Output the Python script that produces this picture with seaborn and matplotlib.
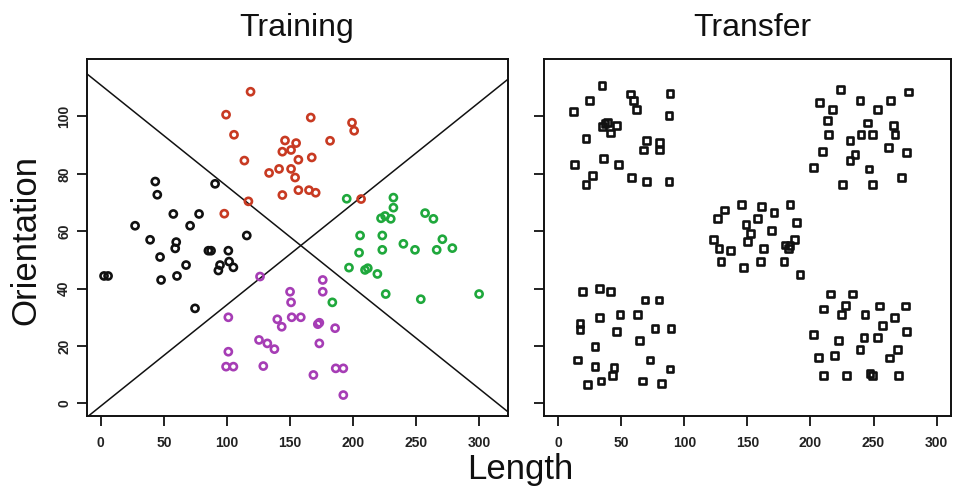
import matplotlib
matplotlib.use("Agg")
import matplotlib.pyplot as plt
import seaborn as sns
import pandas as pd

# ---- training stimuli (length, orientation) per category ----
cat_a_len = [43.2, 44.8, 57.5, 77.9, 90.6, 27.2, 70.8, 115.7, 85.3, 87.4, 101.1, 101.7, 94.5,
             93.2, 105.1, 67.6, 74.7, 39.1, 59.8, 59.0, 47.0, 47.8, 60.4, 2.6, 5.8]
cat_a_ori = [77.3, 72.7, 66.0, 66.0, 76.5, 61.9, 61.9, 58.5, 53.2, 53.2, 53.2, 49.4, 48.2,
             46.3, 47.4, 48.2, 33.1, 57.0, 56.2, 54.0, 51.0, 43.0, 44.4, 44.4, 44.4]

cat_b_len = [118.7, 99.3, 105.6, 113.8, 166.4, 146.0, 154.8, 143.9, 150.8, 156.6, 167.2, 133.4, 141.3,
             150.8, 154.0, 156.6, 165.0, 170.3, 143.9, 117.0, 97.9, 199.1, 200.8, 181.7, 206.3]
cat_b_ori = [108.6, 100.6, 93.6, 84.6, 99.6, 91.6, 90.7, 87.7, 88.3, 84.9, 85.7, 80.3, 81.7,
             81.7, 78.7, 74.3, 74.3, 73.4, 72.6, 70.4, 66.1, 97.8, 95.0, 91.5, 71.2]

cat_c_len = [194.9, 231.9, 231.9, 222.1, 225.3, 229.8, 257.0, 263.6, 205.5, 223.1, 239.8, 249.0, 266.2,
             270.7, 278.6, 204.7, 223.1, 196.7, 209.4, 211.6, 219.2, 225.8, 253.6, 299.8, 183.5]
cat_c_ori = [71.3, 71.7, 68.2, 64.5, 65.3, 64.3, 66.3, 64.3, 58.5, 58.5, 55.6, 53.5, 53.5,
             57.2, 54.1, 52.5, 53.5, 47.3, 46.5, 47.1, 45.1, 38.1, 36.3, 38.1, 35.2]

cat_d_len = [126.2, 150.0, 150.8, 175.9, 175.9, 101.1, 139.9, 143.4, 151.3, 158.5, 172.0, 173.2, 185.7,
             125.4, 132.0, 137.6, 173.2, 101.1, 99.3, 105.1, 128.8, 168.5, 186.2, 192.2, 192.2]
cat_d_ori = [44.2, 38.9, 35.2, 43.0, 38.9, 30.0, 29.3, 26.7, 30.0, 30.0, 27.6, 28.1, 26.2,
             22.1, 20.9, 18.9, 20.9, 18.0, 12.8, 12.8, 13.0, 9.9, 12.2, 12.2, 2.9]

# ---- transfer stimuli (length, orientation) ----
transfer_len = [34.7, 57.4, 88.6, 24.6, 59.5, 12.4, 62.2, 87.8, 37.0, 38.8, 35.2, 46.3, 41.5,
                22.0, 70.1, 67.4, 80.1, 80.1, 35.6, 48.0, 13.2, 27.3, 22.0, 58.2, 70.1, 87.8,
                223.9, 277.6, 207.0, 239.3, 263.6, 217.6, 253.0, 213.3, 245.0, 265.7, 214.1, 240.0, 249.3,
                267.0, 231.3, 209.4, 261.9, 276.3, 235.3, 231.3, 202.2, 246.4, 272.3, 225.2, 249.0,
                145.4, 183.7, 131.6, 126.1, 161.3, 171.1, 158.1, 189.1, 148.8, 169.2, 152.6, 122.9, 127.4,
                136.7, 149.9, 162.6, 179.8, 187.2, 182.4, 183.7, 129.0, 146.7, 160.5, 179.0, 191.7,
                19.0, 32.5, 41.6, 68.8, 79.9, 32.5, 48.9, 62.6, 17.2, 17.2, 46.3, 76.7, 89.4,
                64.2, 29.1, 15.1, 29.1, 44.2, 42.8, 72.7, 88.6, 23.3, 33.9, 66.9, 82.0,
                216.0, 233.1, 210.2, 227.9, 224.7, 254.6, 275.5, 243.2, 266.5, 257.3, 202.2, 222.0, 242.4,
                252.9, 276.3, 239.3, 269.2, 262.5, 206.2, 218.9, 210.2, 228.7, 247.2, 249.3, 269.6]
transfer_ori = [110.8, 107.8, 107.9, 105.6, 105.4, 101.7, 102.5, 100.4, 97.4, 97.9, 96.4, 96.7, 94.2,
                92.4, 91.6, 88.3, 91.0, 88.3, 85.4, 83.3, 83.1, 79.4, 76.3, 78.7, 77.2, 77.2,
                109.5, 108.5, 104.8, 105.5, 105.5, 102.5, 102.5, 98.6, 97.7, 96.7, 93.6, 93.6, 93.6,
                93.6, 91.5, 87.8, 89.3, 87.5, 86.6, 84.6, 82.3, 81.7, 78.7, 76.4, 76.4,
                69.4, 69.4, 67.4, 64.5, 68.6, 66.5, 64.5, 63.1, 62.4, 60.1, 59.3, 57.2, 54.1,
                53.2, 56.3, 54.1, 55.2, 57.0, 54.1, 54.9, 49.4, 47.3, 49.4, 49.4, 45.0,
                38.9, 40.1, 38.9, 36.0, 36.0, 30.0, 31.0, 31.0, 27.9, 25.8, 25.0, 26.2, 26.2,
                21.8, 19.7, 15.1, 12.8, 12.4, 9.6, 15.1, 12.0, 6.7, 7.8, 7.8, 7.0,
                38.1, 38.1, 32.9, 34.0, 31.0, 33.9, 33.9, 31.0, 30.0, 27.1, 24.1, 21.8, 22.9,
                22.9, 25.0, 18.8, 18.9, 15.8, 15.9, 16.8, 9.6, 9.6, 10.5, 9.6, 9.6]

categories = ["A", "B", "C", "D"]
category_colors = ["#111111", "#C83A22", "#1FA83C", "#A63DB5"]

# category boundaries: two lines crossing at the prototype centre
boundary_centre = (158.5, 55.0)
boundary_slopes = [-0.353, 0.353]

x_ticks = [0, 50, 100, 150, 200, 250, 300]
y_ticks = [0, 20, 40, 60, 80, 100]

train = pd.DataFrame({
    "Length": cat_a_len + cat_b_len + cat_c_len + cat_d_len,
    "Orientation": cat_a_ori + cat_b_ori + cat_c_ori + cat_d_ori,
    "Category": (["A"] * len(cat_a_len) + ["B"] * len(cat_b_len)
                 + ["C"] * len(cat_c_len) + ["D"] * len(cat_d_len)),
})
transfer = pd.DataFrame({"Length": transfer_len, "Orientation": transfer_ori})

sns.set_style("ticks")
plt.rcParams["font.family"] = ["Liberation Sans", "DejaVu Sans"]

W, H = 954, 491
fig = plt.figure(figsize=(W / 100, H / 100), dpi=100)
fig.patch.set_facecolor("white")


def px_axes(left, right, top, bottom):
    return fig.add_axes([left / W, 1 - bottom / H, (right - left) / W, (bottom - top) / H])


ax_train = px_axes(87, 508, 59, 416)
ax_trans = px_axes(544, 951, 59, 416)


def hollow(ax, lw):
    coll = ax.collections[-1]
    fc = coll.get_facecolors()
    coll.set_edgecolors(fc)
    coll.set_facecolors("none")
    coll.set_linewidths(lw)


sns.scatterplot(data=train, x="Length", y="Orientation", hue="Category",
                hue_order=categories, palette=category_colors, marker="o",
                s=26, linewidth=0, legend=False, ax=ax_train, zorder=3)
hollow(ax_train, 1.9)

for slope in boundary_slopes:
    ax_train.axline(boundary_centre, slope=slope, color="#111111", lw=1.1, zorder=2)

sns.scatterplot(data=transfer, x="Length", y="Orientation", color="#111111",
                marker="s", s=24, linewidth=0, legend=False, ax=ax_trans, zorder=3)
hollow(ax_trans, 1.9)

ax_train.set_xlim(-10.9, 322.7)
ax_trans.set_xlim(-11.3, 311.4)
for ax in (ax_train, ax_trans):
    ax.set_ylim(-4.4, 120.0)
    ax.set_xticks(x_ticks)
    ax.set_yticks(y_ticks)
    ax.set_xlabel("")
    ax.set_ylabel("")
    ax.set_facecolor("white")
    for sp in ax.spines.values():
        sp.set_visible(True)
        sp.set_color("#111111")
        sp.set_linewidth(1.4)
    ax.tick_params(axis="both", direction="out", length=7.5, width=1.3, color="#111111",
                   labelsize=10, labelcolor="#222222")
    ax.tick_params(axis="x", pad=7)
    ax.tick_params(axis="y", pad=4)
    for lab in ax.get_xticklabels() + ax.get_yticklabels():
        lab.set_fontweight("bold")

for lab in ax_train.get_yticklabels():
    lab.set_rotation(90)
    lab.set_va("center")
ax_trans.set_yticklabels([])

fig.text(297 / W, 1 - 28 / H, "Training", ha="center", va="center", fontsize=23, color="#111111")
fig.text(752 / W, 1 - 28 / H, "Transfer", ha="center", va="center", fontsize=23, color="#111111")
fig.text(520 / W, 1 - 470 / H, "Length", ha="center", va="center", fontsize=25, color="#111111")
fig.text(26 / W, 1 - 240 / H, "Orientation", ha="center", va="center", rotation=90,
         fontsize=25, color="#111111")

fig.savefig("out.png", dpi=100, facecolor="white")
